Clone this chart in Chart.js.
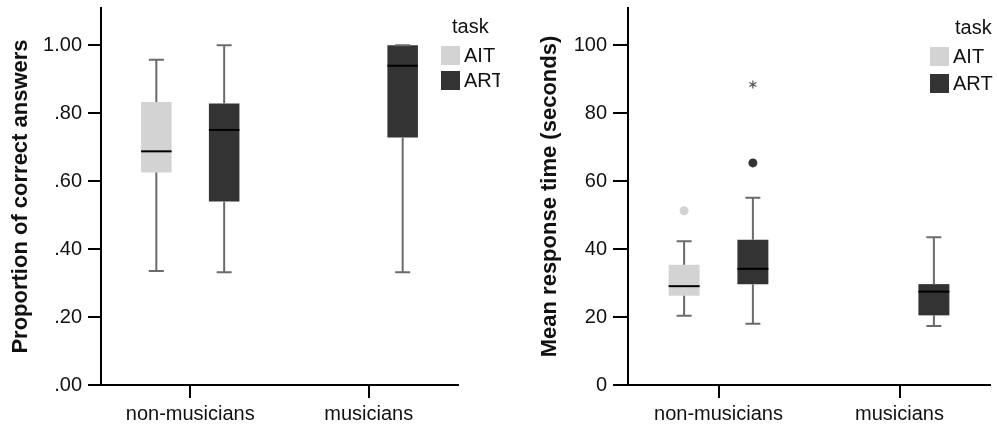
<!DOCTYPE html>
<html>
<head>
<meta charset="utf-8">
<script src="https://cdn.jsdelivr.net/npm/chart.js@4.4.1/dist/chart.umd.min.js"></script>
<style>
  html, body { margin: 0; padding: 0; background: #fff; }
  #wrap { position: relative; width: 997px; height: 426px; overflow: hidden; }
  .panel { position: absolute; top: 0; height: 426px; }
</style>
</head>
<body>
<div id="wrap">
  <div class="panel" style="left:0;width:500px"><canvas id="accChart" width="500" height="426"></canvas></div>
  <div class="panel" style="left:500px;width:497px"><canvas id="rtChart" width="497" height="426"></canvas></div>
</div>
<script>
const groups = ["non-musicians", "musicians"];
const tasks = ["AIT", "ART"];
const taskColors = ["#d3d3d3", "#333333"];
const legendTitle = "task";

// box stats per group: [min, q1, median, q3, max]; null = no box
const accAIT = [[0.336, 0.626, 0.688, 0.833, 0.958], null];
const accART = [[0.332, 0.540, 0.751, 0.829, 1.00], [0.332, 0.729, 0.940, 1.00, 1.00]];
const accTicks = [0, 0.2, 0.4, 0.6, 0.8, 1.0];

const rtAIT = [[20.4, 26.3, 29.1, 35.4, 42.3], null];
const rtART = [[18.0, 29.7, 34.2, 42.8, 55.1], [17.4, 20.5, 27.5, 29.7, 43.5]];
const rtOutAIT = [[51.3], []];
const rtOutART = [[65.4], []];
const rtExtremeART = [[88.5], []];
const rtTicks = [0, 20, 40, 60, 80, 100];

const fontFamily = "'Liberation Sans', Arial, Helvetica, sans-serif";

function boxDataset(idx, stats, outliers, extremes) {
  return {
    label: tasks[idx],
    data: stats.map(s => (s ? [s[1], s[3]] : null)),
    stats: stats,
    outliers: outliers || [],
    extremes: extremes || [],
    backgroundColor: taskColors[idx],
    borderWidth: 0,
    categoryPercentage: 0.76,
    barPercentage: 0.45
  };
}

// whiskers, medians and outliers on top of the floating q1..q3 bars
const boxWhiskers = {
  id: "boxWhiskers",
  afterDatasetsDraw(chart) {
    const ctx = chart.ctx;
    const ys = chart.scales.y;
    chart.data.datasets.forEach((ds, i) => {
      const meta = chart.getDatasetMeta(i);
      meta.data.forEach((bar, j) => {
        const s = ds.stats[j];
        const x = bar.x;
        ctx.save();
        if (s) {
          const half = bar.width / 2;
          const yMin = ys.getPixelForValue(s[0]);
          const yQ1 = ys.getPixelForValue(s[1]);
          const yMed = ys.getPixelForValue(s[2]);
          const yQ3 = ys.getPixelForValue(s[3]);
          const yMax = ys.getPixelForValue(s[4]);
          ctx.strokeStyle = "#6b6b6b";
          ctx.lineWidth = 2;
          ctx.beginPath();
          ctx.moveTo(x, yQ3); ctx.lineTo(x, yMax);
          ctx.moveTo(x, yQ1); ctx.lineTo(x, yMin);
          ctx.moveTo(x - 7.5, yMax); ctx.lineTo(x + 7.5, yMax);
          ctx.moveTo(x - 7.5, yMin); ctx.lineTo(x + 7.5, yMin);
          ctx.stroke();
          ctx.strokeStyle = "#000";
          ctx.beginPath();
          ctx.moveTo(x - half, yMed); ctx.lineTo(x + half, yMed);
          ctx.stroke();
        }
        (ds.outliers[j] || []).forEach(v => {
          ctx.fillStyle = ds.backgroundColor;
          ctx.beginPath();
          ctx.arc(x, ys.getPixelForValue(v), 4.5, 0, Math.PI * 2);
          ctx.fill();
        });
        (ds.extremes[j] || []).forEach(v => {
          const cy = ys.getPixelForValue(v);
          const r = 4;
          ctx.strokeStyle = "#555";
          ctx.lineWidth = 1.2;
          ctx.beginPath();
          for (let k = 0; k < 3; k++) {
            const a = Math.PI / 2 + k * Math.PI / 3;
            ctx.moveTo(x + r * Math.cos(a), cy - r * Math.sin(a));
            ctx.lineTo(x - r * Math.cos(a), cy + r * Math.sin(a));
          }
          ctx.stroke();
        });
        ctx.restore();
      });
    });
  }
};

const taskLegend = {
  id: "taskLegend",
  afterDraw(chart, args, opts) {
    const ctx = chart.ctx;
    ctx.save();
    ctx.font = "20px " + fontFamily;
    ctx.fillStyle = "#111";
    ctx.textBaseline = "alphabetic";
    ctx.fillText(legendTitle, opts.titleX, opts.titleY);
    chart.data.datasets.forEach((ds, i) => {
      const top = opts.y + i * opts.gap;
      ctx.fillStyle = ds.backgroundColor;
      ctx.fillRect(opts.x, top, opts.box, opts.box);
      ctx.fillStyle = "#111";
      ctx.textBaseline = "middle";
      ctx.fillText(ds.label, opts.x + opts.box + 4, top + opts.box / 2 + 1);
    });
    ctx.restore();
  }
};

function makeChart(id, cfg) {
  return new Chart(document.getElementById(id).getContext("2d"), {
    type: "bar",
    data: { labels: groups, datasets: cfg.datasets },
    options: {
      responsive: false,
      animation: false,
      layout: { padding: { top: 8, right: cfg.padRight, bottom: 0, left: 0 } },
      plugins: {
        legend: { display: false },
        tooltip: { enabled: false },
        taskLegend: cfg.legend
      },
      scales: {
        x: {
          offset: true,
          border: { display: true, color: "#000", width: 2 },
          grid: { display: true, offset: false, drawOnChartArea: false, drawTicks: true, tickLength: 13, color: "#000", lineWidth: 2 },
          ticks: { color: "#111", padding: 4, font: { family: fontFamily, size: 20 } },
          afterFit(scale) { scale.height = 41; scale.paddingLeft = 0; scale.paddingRight = 0; }
        },
        y: {
          min: 0,
          max: cfg.yMax,
          border: { display: true, color: "#000", width: 2 },
          grid: { display: true, drawOnChartArea: false, drawTicks: true, tickLength: cfg.tickLength, color: "#000", lineWidth: 2 },
          ticks: { color: "#111", padding: 6, includeBounds: false, font: { family: fontFamily, size: 20 }, callback: cfg.fmt },
          afterBuildTicks(scale) { scale.ticks = cfg.ticks.map(v => ({ value: v })); },
          title: {
            display: true,
            text: cfg.title,
            color: "#111",
            padding: { top: cfg.titlePad, bottom: 0 },
            font: { family: fontFamily, size: 22, weight: "bold" }
          },
          afterFit(scale) { scale.width = cfg.yWidth; scale.paddingTop = 0; scale.paddingBottom = 0; }
        }
      }
    },
    plugins: [boxWhiskers, taskLegend]
  });
}

makeChart("accChart", {
  datasets: [boxDataset(0, accAIT), boxDataset(1, accART)],
  title: "Proportion of correct answers",
  yMax: 1.11,
  ticks: accTicks,
  fmt: v => Number(v).toFixed(2).replace(/^0/, ""),
  yWidth: 101,
  tickLength: 13,
  titlePad: 8,
  padRight: 42,
  legend: { titleX: 452, titleY: 33, x: 441, y: 46, gap: 25, box: 19 }
});

makeChart("rtChart", {
  datasets: [boxDataset(0, rtAIT, rtOutAIT), boxDataset(1, rtART, rtOutART, rtExtremeART)],
  title: "Mean response time (seconds)",
  yMax: 111,
  ticks: rtTicks,
  fmt: v => String(v),
  yWidth: 128,
  tickLength: 15,
  titlePad: 37,
  padRight: 7,
  legend: { titleX: 455, titleY: 34, x: 430, y: 47, gap: 27, box: 19 }
});
</script>
</body>
</html>
